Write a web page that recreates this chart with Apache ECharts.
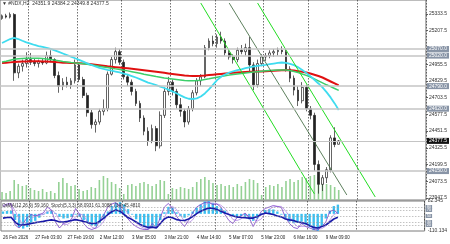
<!DOCTYPE html>
<html><head><meta charset="utf-8">
<script src="https://cdn.jsdelivr.net/npm/echarts@6/dist/echarts.min.js"></script>
<style>html,body{margin:0;padding:0;background:#fff}#c{width:450px;height:244px}</style>
</head><body><div id="c"></div>
<script>
const categories = [
'26 Feb 11:00','26 Feb 13:00','26 Feb 15:00','26 Feb 17:00','26 Feb 19:00','26 Feb 21:00','26 Feb 23:00',
'27 Feb 01:00','27 Feb 03:00','27 Feb 05:00','27 Feb 07:00','27 Feb 09:00','27 Feb 11:00','27 Feb 13:00','27 Feb 15:00','27 Feb 17:00','27 Feb 19:00','27 Feb 21:00','27 Feb 23:00',
'2 Mar 02:00','2 Mar 04:00','2 Mar 06:00','2 Mar 08:00','2 Mar 10:00','2 Mar 12:00','2 Mar 14:00','2 Mar 16:00','2 Mar 18:00','2 Mar 20:00','2 Mar 22:00',
'3 Mar 01:00','3 Mar 03:00','3 Mar 05:00','3 Mar 07:00','3 Mar 09:00','3 Mar 11:00','3 Mar 13:00','3 Mar 15:00','3 Mar 17:00','3 Mar 19:00','3 Mar 21:00','3 Mar 23:00',
'4 Mar 02:00','4 Mar 04:00','4 Mar 06:00','4 Mar 08:00','4 Mar 10:00','4 Mar 12:00','4 Mar 14:00','4 Mar 16:00','4 Mar 18:00','4 Mar 20:00','4 Mar 22:00',
'5 Mar 01:00','5 Mar 03:00','5 Mar 05:00','5 Mar 07:00','5 Mar 09:00','5 Mar 11:00','5 Mar 13:00','5 Mar 15:00','5 Mar 17:00','5 Mar 19:00','5 Mar 21:00','5 Mar 23:00',
'6 Mar 02:00','6 Mar 04:00','6 Mar 06:00','6 Mar 08:00','6 Mar 10:00','6 Mar 12:00','6 Mar 14:00','6 Mar 16:00','6 Mar 18:00','6 Mar 20:00','6 Mar 22:00',
'9 Mar 01:00','9 Mar 03:00','9 Mar 05:00','9 Mar 07:00','9 Mar 09:00','9 Mar 11:00','9 Mar 13:00','9 Mar 15:00'];
const tickLabels = ['26 Feb 2026','27 Feb 03:00','27 Feb 19:00','2 Mar 12:00','3 Mar 05:00','3 Mar 21:00','4 Mar 14:00','5 Mar 07:00','5 Mar 23:00','6 Mar 16:00','9 Mar 09:00'];
const dayStarts = [7,19,30,42,53,65,76,88];

const opens  = [25300,25320,25310,25330,24890,24940,24960,24990,24970,24960,24975,24965,25020,24990,24870,24790,24820,24800,24830,24950,24840,24720,24590,24500,24520,24600,24620,24880,24990,25050,24970,24860,24820,24750,24660,24550,24450,24380,24470,24340,24570,24750,24820,24750,24650,24600,24520,24620,24740,24830,24860,25080,25130,25110,25160,25130,25040,25010,24990,25060,25050,25080,24950,24800,24960,25010,25020,25040,25050,25060,25050,24920,24850,24760,24680,24780,24620,24570,24200,24050,24100,24160,24400,24351.9];
const highs  = [25330,25335,25345,25340,24960,24990,25045,25040,25000,24990,25000,25050,25060,25000,24900,24850,24860,24850,24990,24960,24860,24740,24610,24540,24620,24690,24900,25010,25080,25070,24990,24880,24840,24770,24680,24570,24480,24500,24490,24600,24780,24860,24840,24770,24700,24620,24640,24760,24850,24880,25100,25150,25170,25180,25200,25150,25060,25030,25080,25100,25110,25160,24970,24990,25030,25040,25060,25070,25080,25090,25070,24940,24870,24790,24820,24800,24640,24590,24230,24120,24180,24420,24480,24384.2];
const lows   = [25290,25300,25300,24830,24850,24900,24930,24950,24940,24930,24950,24955,24970,24850,24740,24760,24780,24770,24810,24820,24700,24560,24470,24440,24500,24570,24600,24870,24960,24950,24840,24790,24720,24640,24520,24420,24340,24360,24300,24320,24550,24720,24720,24620,24560,24480,24500,24600,24720,24790,24850,25060,25090,25080,25110,25020,24990,24960,24970,25030,25020,24900,24760,24780,24940,24980,25000,25010,25020,25030,24900,24820,24720,24640,24660,24600,24540,24150,23980,24000,24060,24140,24330,24349.8];
const closes = [25320,25310,25330,24890,24940,24960,24990,24970,24960,24975,24965,25020,24990,24870,24790,24820,24800,24830,24950,24840,24720,24590,24500,24520,24600,24620,24880,24990,25050,24970,24860,24820,24750,24660,24550,24450,24380,24470,24340,24570,24750,24820,24750,24650,24600,24520,24620,24740,24830,24860,25080,25130,25110,25160,25130,25040,25010,24990,25060,25050,25080,24950,24800,24960,25010,25020,25040,25050,25060,25050,24920,24850,24760,24680,24780,24620,24570,24200,24050,24100,24160,24400,24350,24377.5];
const volumes = [4000,3500,4500,10000,8000,7000,7500,6000,5000,4500,5500,4000,4500,3500,9000,11000,8500,7000,7500,5500,4500,5000,6500,6000,10000,12000,11000,9000,8000,6000,3000,7500,8000,7000,8500,9000,8000,7000,8000,10000,9500,3000,6000,5500,6500,6000,5500,6500,9000,10500,11500,10000,8500,7500,8000,7000,7500,6500,8000,7000,9000,10500,10000,8500,2500,6500,7500,7000,8000,6500,9500,10500,9000,10000,11500,11000,12000,12500,11500,9000,8000,7500,6500,5000];
const maRed = [24965,24967,24969,24971,24973,24975,24976,24977,24977,24977,24976,24975,24973,24971,24969,24967,24966,24965,24964,24963,24961,24958,24955,24951,24947,24943,24939,24936,24933,24930,24927,24924,24921,24918,24914,24910,24906,24902,24898,24894,24890,24886,24882,24878,24874,24870,24868,24867,24867,24868,24870,24873,24876,24879,24882,24885,24888,24890,24892,24894,24896,24898,24899,24900,24901,24902,24904,24906,24908,24910,24911,24910,24907,24903,24898,24892,24885,24876,24866,24855,24840,24825,24810,24795];
const maGreen = [24972,24978,24985,24992,24996,24998,25000,25001,25001,25000,24998,24995,24991,24986,24981,24976,24972,24968,24965,24962,24959,24955,24950,24945,24940,24935,24930,24925,24920,24915,24910,24905,24899,24893,24887,24880,24874,24868,24862,24857,24852,24848,24844,24840,24836,24832,24830,24830,24832,24835,24840,24845,24851,24857,24863,24868,24873,24877,24881,24885,24889,24893,24896,24899,24902,24905,24907,24909,24911,24912,24911,24907,24900,24892,24882,24871,24859,24845,24830,24815,24800,24786,24772,24758];
const maCyan = [25115,25130,25145,25153,25145,25132,25120,25110,25100,25092,25085,25078,25070,25060,25048,25036,25024,25012,25000,24988,24975,24962,24950,24938,24928,24920,24913,24907,24900,24893,24885,24876,24866,24855,24843,24830,24817,24808,24798,24787,24776,24764,24750,24736,24720,24705,24695,24693,24698,24712,24735,24765,24800,24835,24860,24878,24892,24902,24910,24917,24925,24932,24938,24942,24946,24950,24955,24960,24965,24968,24966,24958,24948,24932,24912,24890,24865,24838,24810,24780,24745,24705,24660,24610];
const trendA = [[49,25416],[77,23978]];
const trendB = [[63,25416],[92,23955]];
const trendC = [[56,25416],[85,23970]];
const priceTicks = [25333.5,25207.5,24955.5,24829.5,24703.5,24577.5,24451.5,24325.5,24199.5,24073.5,23947.5];
const levels = [25070.0,25020.0,24790.0,24620.0,24150.0];
const bidPrice = 24377.5;
const osma = [15,18,20,-40,-85,-95,-85,-65,-45,-25,-5,15,20,5,-20,-30,-28,-20,-5,-20,-40,-60,-75,-80,-60,-30,15,50,70,75,60,30,-5,-35,-60,-80,-95,-85,-90,-40,10,45,40,10,-15,-25,-10,15,40,60,80,85,70,50,35,20,0,-15,-20,-15,-25,-35,-45,-30,5,25,30,28,15,-5,-30,-50,-60,-55,-50,-70,-85,-105,-110,-80,-30,20,50,59.16];
const stochMain = [85,90,92,20,10,25,45,55,50,55,60,80,70,30,10,25,30,40,75,55,25,10,5,10,35,55,80,90,95,80,55,40,25,15,8,5,5,25,10,45,80,92,75,50,30,15,35,60,80,88,95,96,88,90,80,55,35,25,45,50,60,45,15,40,65,75,80,85,82,78,45,25,12,8,25,15,10,5,3,15,30,65,70,58.0931];
const stochSignal = [80,85,89,67,41,18,27,42,50,53,55,65,70,60,37,22,22,32,48,57,52,30,13,8,17,33,57,75,88,88,77,58,40,27,16,9,6,12,13,27,45,72,82,72,52,32,27,37,58,76,88,93,93,91,86,75,57,38,35,40,52,52,40,33,40,60,73,80,82,82,68,49,27,15,15,16,17,10,6,8,16,37,55,61.3];
const rsi = [43,45,46,30,20,20,22,25,28,30,32,35,37,35,30,30,32,35,38,35,32,28,25,25,33,43,55,65,70,66,55,45,38,30,22,16,12,13,10,25,40,47,44,38,36,35,40,48,58,66,72,77,76,72,66,60,55,50,47,45,44,43,43,48,55,60,58,55,50,47,40,37,35,30,28,25,18,12,10,15,20,30,40,45.481];
const oscLevels = [80,70,50,30,20];

const FONT = 'Liberation Sans';
const axisCats = categories.concat(new Array(21).fill(''));
const candleData = opens.map((o,i)=>[o, closes[i], lows[i], highs[i]]);
const lineData = pts => pts.map(p=>[p[0], p[1]]);
const splitFn = (i)=> dayStarts.indexOf(i) >= 0;
const lblFn = (i)=> i % 8 === 0 && i/8 < tickLabels.length;

const chart = echarts.init(document.getElementById('c'), null, {renderer:'canvas'});
const boxLabel = (bg)=>({show:true, position:'end', distance:1, formatter:p=>p.value.toFixed(1), backgroundColor:bg, color:'#fff', fontSize:5, fontFamily:FONT, padding:[1,2,0,2]});
chart.setOption({
  animation:false,
  backgroundColor:'#ffffff',
  textStyle:{fontFamily:FONT},
  title:[
    {text:'▼ #NDX,H2  24351.9 24384.2 24349.8 24377.5', left:2, top:1, padding:0, textStyle:{fontSize:5, color:'#333', fontWeight:'normal', fontFamily:FONT}},
    {text:'OsMA(12,26,9) 59.160  Stoch(5,3,3) 58.0931 61.3088  (14) 45.4810', left:2, top:203, padding:0, textStyle:{fontSize:4.6, color:'#333', fontWeight:'normal', fontFamily:FONT}}
  ],
  grid:[
    {left:0, right:22, top:0, height:200, show:true, borderColor:'#7a7a7a', borderWidth:1},
    {left:0, right:22, top:201, height:30, show:true, borderColor:'#7a7a7a', borderWidth:1}
  ],
  xAxis:[
    {gridIndex:0, type:'category', data:axisCats, boundaryGap:true, axisLine:{show:false}, axisTick:{show:false}, axisLabel:{show:false},
     splitLine:{show:true, interval:splitFn, lineStyle:{color:'#333', width:0.7, type:[1.5,1.5]}}},
    {gridIndex:1, type:'category', data:axisCats, boundaryGap:true, axisLine:{show:false}, axisTick:{show:false},
     axisLabel:{show:true, interval:lblFn, formatter:(v,i)=>tickLabels[i/8], fontSize:4.5, color:'#222', align:'left', margin:4, fontFamily:FONT},
     splitLine:{show:true, interval:splitFn, lineStyle:{color:'#333', width:0.7, type:[1.5,1.5]}}}
  ],
  yAxis:[
    {gridIndex:0, type:'value', position:'right', min:23932, max:25439, splitLine:{show:false}, axisLine:{show:false},
     axisTick:{show:true, customValues:priceTicks, length:2, inside:false, lineStyle:{color:'#555'}},
     axisLabel:{show:true, customValues:priceTicks, formatter:v=>v.toFixed(1), fontSize:5, color:'#333', margin:3, fontFamily:FONT}},
    {gridIndex:0, type:'value', min:0, max:100000, show:false},
    {gridIndex:1, type:'value', position:'right', min:-110.134, max:82.345, splitLine:{show:false}, axisLine:{show:false},
     axisTick:{show:false},
     axisLabel:{show:true, customValues:[82.345,-110.134], formatter:v=>String(v), fontSize:5, color:'#333', margin:3, fontFamily:FONT}},
    {gridIndex:1, type:'value', min:0, max:100, show:false},
    {gridIndex:1, type:'value', min:0, max:100, show:false}
  ],
  series:[
    {type:'bar', xAxisIndex:0, yAxisIndex:1, data:volumes, barWidth:1.6, itemStyle:{color:'#95d195'}, silent:true},
    {type:'line', xAxisIndex:0, yAxisIndex:0, data:maRed, symbol:'none', lineStyle:{color:'#e01010', width:2}},
    {type:'line', xAxisIndex:0, yAxisIndex:0, data:maGreen, symbol:'none', lineStyle:{color:'#3ccf6a', width:1.5}},
    {type:'line', xAxisIndex:0, yAxisIndex:0, data:maCyan, symbol:'none', lineStyle:{color:'#3fdcef', width:1.8}},
    {type:'line', xAxisIndex:0, yAxisIndex:0, data:lineData(trendA), symbol:'none', lineStyle:{color:'#22dd22', width:1}},
    {type:'line', xAxisIndex:0, yAxisIndex:0, data:lineData(trendB), symbol:'none', lineStyle:{color:'#22dd22', width:1}},
    {type:'line', xAxisIndex:0, yAxisIndex:0, data:lineData(trendC), symbol:'none', lineStyle:{color:'#335f33', width:0.8}},
    {type:'candlestick', xAxisIndex:0, yAxisIndex:0, data:candleData, barWidth:2.2,
     itemStyle:{color:'#ffffff', color0:'#222222', borderColor:'#222222', borderColor0:'#222222', borderWidth:0.7},
     markLine:{symbol:'none', silent:true, animation:false,
       data: levels.map(v=>({yAxis:v, lineStyle:{color:'#c4c4c4', width:1.5, type:'solid'}, label:boxLabel('#8894a6')}))
         .concat([{yAxis:bidPrice, lineStyle:{color:'#c4c4c4', width:1, type:'solid'}, label:boxLabel('#111111')}])}},
    {type:'bar', xAxisIndex:1, yAxisIndex:2, data:osma, barWidth:2.4, itemStyle:{color:'#3cc0f0'}},
    {type:'line', xAxisIndex:1, yAxisIndex:3, data:stochSignal, symbol:'none', lineStyle:{color:'#b58be6', width:0.8},
     markLine:{symbol:'none', silent:true,
       label:{show:true, position:'end', distance:1, formatter:p=>String(p.value), fontSize:4, color:'#fff', backgroundColor:'#8894a6', padding:[0,1,0,1], fontFamily:FONT},
       lineStyle:{color:'#9a9a9a', width:0.6, type:[1.5,1.5]}, data:oscLevels.map(v=>({yAxis:v}))}},
    {type:'line', xAxisIndex:1, yAxisIndex:3, data:stochMain, symbol:'none', lineStyle:{color:'#7a3fc8', width:0.8}},
    {type:'line', xAxisIndex:1, yAxisIndex:4, data:rsi, symbol:'none', lineStyle:{color:'#1a1aa8', width:1.6}}
  ]
});
</script></body></html>
